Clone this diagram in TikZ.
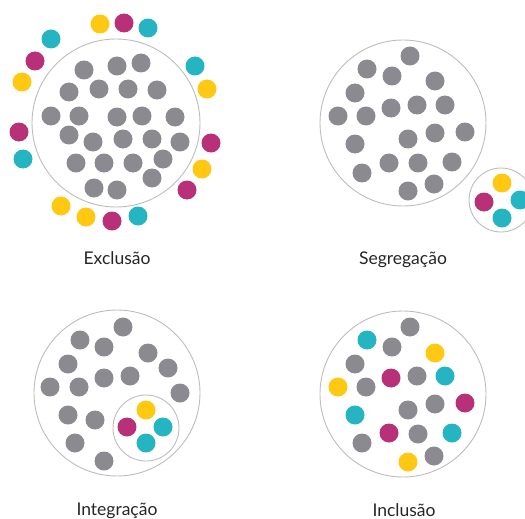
\documentclass[tikz,border=0pt]{standalone}
\usepackage{fontspec}
\setmainfont{Lato}
\usepackage{tikz}
\usetikzlibrary{positioning}

\definecolor{cinza}{HTML}{8B8A90}
\definecolor{amarelo}{HTML}{FFC812}
\definecolor{magenta}{HTML}{B83077}
\definecolor{ciano}{HTML}{25B4C2}
\definecolor{contorno}{HTML}{BDBDBD}
\definecolor{texto}{HTML}{262626}

\tikzset{
  grupo/.style={draw=contorno, line width=0.9pt},
  rotulo/.style={anchor=base, text=texto, font=\fontsize{17.5}{20}\selectfont},
}

\begin{document}
\begin{tikzpicture}[x=1pt, y=-1pt]
    \useasboundingbox (0,0) rectangle (525,519);
    \def\r{9.5}

    % Exclusão
    \draw[grupo] (116,123) circle (84);
    \foreach \p in {(84,70),(117,66),(141,63),(69,92),(99,89),(128,89),(157,90),
        (51,116),(79,116),(117,117),(142,116),(175,117),(69,135),(93,142),(123,139),
        (152,139),(180,142),(76,163),(104,163),(133,163),(163,159),(94,188),(117,190),(152,178)}
        \fill[cinza] \p circle (\r);
    \foreach \p in {(100,24),(22,82),(61,206),(86,217),(207,89),(202,169)}
        \fill[amarelo] \p circle (\r);
    \foreach \p in {(124,23),(35,61),(19,132),(112,221),(211,143),(187,190)}
        \fill[magenta] \p circle (\r);
    \foreach \p in {(148,28),(51,39),(23,159),(138,216),(195,66)}
        \fill[ciano] \p circle (\r);
    \node[rotulo] (exclusao) at (117,264) {Exclusão};

    % Segregação
    \draw[grupo] (403,123) circle (83);
    \foreach \p in {(410,56),(367,69),(392,76),(435,81),(355,93),(391,108),(417,105),
        (445,105),(338,116),(366,116),(435,133),(465,132),(408,139),(355,144),(389,163),
        (418,163),(452,162),(362,173),(408,191),(434,184)}
        \fill[cinza] \p circle (\r);
    \draw[grupo] (501,200) circle (32);
    \fill[amarelo] (502,183) circle (\r);
    \fill[magenta] (484,202) circle (\r);
    \fill[ciano] (520,200) circle (\r);
    \fill[ciano] (502,218) circle (\r);
    \node[rotulo] (segregacao) at (403,264) {Segregação};

    % Integração
    \draw[grupo] (117,393) circle (83);
    \foreach \p in {(123,327),(80,340),(104,347),(148,353),(68,364),(168,368),(50,387),
        (79,387),(104,378),(130,376),(180,393),(68,415),(95,420),(75,443),(104,461)}
        \fill[cinza] \p circle (\r);
    \draw[grupo] (146,428) circle (33);
    \fill[amarelo] (146,410) circle (\r);
    \fill[magenta] (127,427) circle (\r);
    \fill[ciano] (163,427) circle (\r);
    \fill[ciano] (146,443) circle (\r);
    \node[rotulo] (integracao) at (117,515) {Integração};

    % Inclusão
    \draw[grupo] (403,394) circle (83);
    \foreach \p in {(410,327),(392,347),(355,364),(417,376),(366,387),(435,404),
        (408,410),(418,434),(362,443),(434,456)}
        \fill[cinza] \p circle (\r);
    \foreach \p in {(435,353),(338,387),(408,462)}
        \fill[amarelo] \p circle (\r);
    \foreach \p in {(391,378),(465,403),(389,433)}
        \fill[magenta] \p circle (\r);
    \foreach \p in {(367,340),(445,376),(355,415),(452,433)}
        \fill[ciano] \p circle (\r);
    \node[rotulo] (inclusao) at (404,516) {Inclusão};
\end{tikzpicture}
\end{document}
